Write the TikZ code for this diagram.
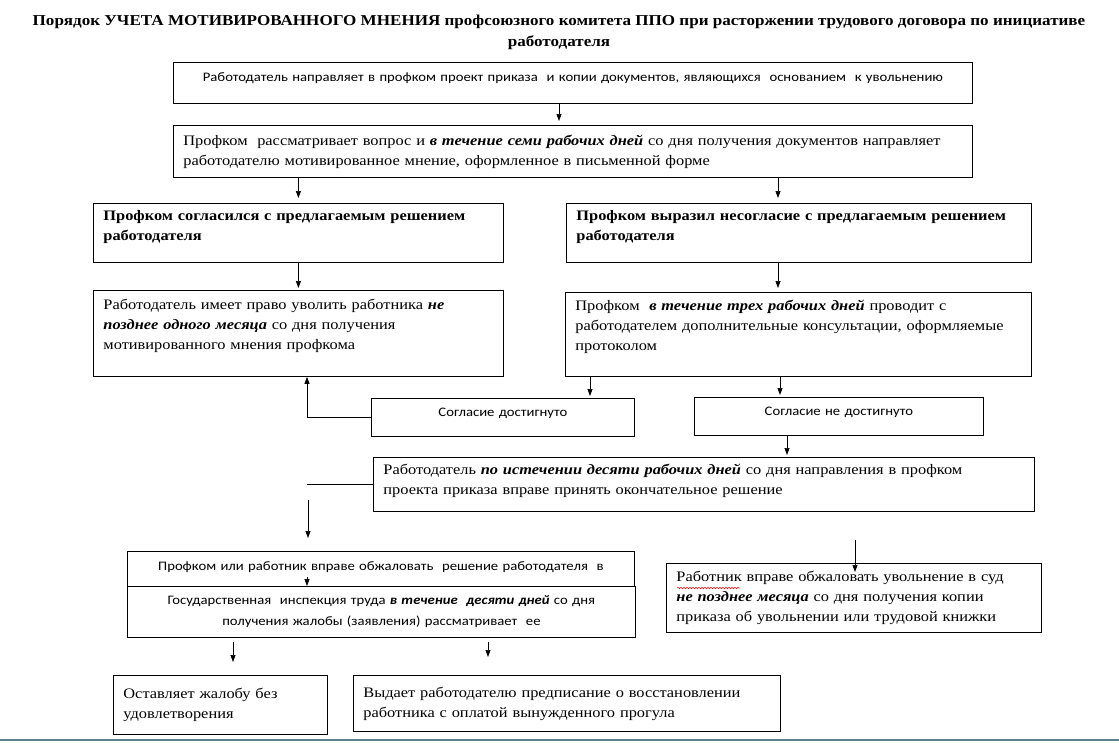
\documentclass[tikz,border=0pt]{standalone}
\usepackage{fontspec}
\setmainfont{Liberation Serif}[FakeStretch=1.13]
\newfontfamily\calib{Carlito}[FakeStretch=1.13]
\usetikzlibrary{arrows.meta,calc,decorations.pathmorphing}
\definecolor{rulecol}{RGB}{96,128,136}
\newcommand{\bi}[1]{\textbf{\textit{#1}}}
\newcommand{\liftpad}[1]{\par\vspace*{#1}}

\begin{document}
\begin{tikzpicture}[x=1pt, y=-1pt,
  box/.style={draw, line width=0.8pt, rectangle, anchor=north west, inner xsep=10pt, inner ysep=2pt,
    align=left, fill=white, font=\fontsize{14.5}{20}\selectfont},
  sbox/.style={box, align=center, font=\calib\fontsize{13}{21}\selectfont},
  lift/.style={execute at end node={\liftpad{#1}}},
  arr/.style={-{Triangle[length=7pt,width=5pt]}, line width=0.7pt}]
\useasboundingbox (0,0) rectangle (1119,742);

\node[font=\bfseries\fontsize{15.1}{21}\selectfont, align=center] (title) at (559,32)
  {Порядок УЧЕТА МОТИВИРОВАННОГО МНЕНИЯ профсоюзного комитета ППО при расторжении трудового договора по инициативе\\работодателя};

\node[sbox, text width=779pt, minimum height=41pt, lift=10pt] (b1) at (173,62)
  {Работодатель направляет в профком проект приказа\ \ и копии документов, являющихся\ \ основанием\ \ к увольнению};
\node[box, text width=779pt, minimum height=52pt] (b2) at (173,125)
  {Профком\ \ рассматривает вопрос и \bi{в течение семи рабочих дней} со дня получения документов направляет\\
   работодателю мотивированное мнение, оформленное в письменной форме};

\node[box, text width=390pt, minimum height=59pt, lift=11pt] (b3L) at (93,203)
  {\textbf{Профком согласился с предлагаемым решением}\\\textbf{работодателя}};
\node[box, text width=445pt, minimum height=59pt, lift=11pt] (b3R) at (566,203)
  {\textbf{Профком выразил несогласие с предлагаемым решением}\\\textbf{работодателя}};

\node[box, text width=390pt, minimum height=86pt, lift=15pt] (b4L) at (93,290)
  {Работодатель имеет право уволить работника \bi{не}\\\bi{позднее одного месяца} со дня получения\\мотивированного мнения профкома};
\node[box, text width=446pt, minimum height=84pt, lift=15pt] (b4R) at (565,292)
  {Профком\ \ \bi{в течение трех рабочих дней} проводит с\\работодателем дополнительные консультации, оформляемые\\протоколом};

\node[sbox, text width=243pt, minimum height=38pt, lift=8pt] (Sogl) at (371,398) {Согласие достигнуто};
\node[sbox, text width=269pt, minimum height=38pt, lift=8pt] (NeSogl) at (694,397) {Согласие не достигнуто};

\node[box, text width=641pt, minimum height=54pt, lift=7pt] (b5) at (373,457)
  {Работодатель \bi{по истечении десяти рабочих дней} со дня направления в профком\\проекта приказа вправе принять окончательное решение};

\node[sbox, text width=487pt, minimum height=45pt, lift=13pt] (b6a) at (127,551)
  {Профком или работник вправе обжаловать\ \ решение работодателя\ \ в};
\node[sbox, text width=488pt, minimum height=51pt] (b6b) at (127,586)
  {Государственная\ \ инспекция труда \bi{в течение\ \ десяти дней} со дня\\получения жалобы (заявления) рассматривает\ \ ее};

\node[box, text width=355pt, minimum height=69pt] (b8) at (666,563)
  {Работник вправе обжаловать увольнение в суд\\\bi{не позднее месяца} со дня получения копии\\приказа об увольнении или трудовой книжки};
\draw[red, line width=0.5pt, decorate, decoration={snake, amplitude=0.7pt, segment length=3pt}] (677,588) -- (740,588);

\node[box, text width=194pt, minimum height=59pt] (b7L) at (113,675)
  {Оставляет жалобу без\\удовлетворения};
\node[box, text width=407pt, minimum height=56pt] (b7R) at (353,675)
  {Выдает работодателю предписание о восстановлении\\работника с оплатой вынужденного прогула};

% connectors
\coordinate (xT) at (559,0);
\coordinate (xR) at (778,0);
\coordinate (xS) at (590,0);
\coordinate (xN) at (780,0);
\coordinate (xU) at (307,0);
\coordinate (xD) at (787,0);
\coordinate (xL1) at (233,0);
\coordinate (xL2) at (488,0);
\coordinate (tick) at (307,577);
\coordinate (dropA) at (308,500);
\coordinate (dropB) at (855,540);

\draw[arr, shorten >=4pt] (b1.south -| xT) -- (b2.north -| xT);
\draw[arr, shorten >=5pt] (b2.south -| b3L.north) -- (b3L.north);
\draw[arr, shorten >=5pt] (b2.south -| xR) -- (b3R.north -| xR);
\draw[arr, shorten >=2pt] (b3L.south) -- (b4L.north);
\draw[arr, shorten >=4pt] (b3R.south -| xR) -- (b4R.north -| xR);
\draw[arr, shorten >=2pt] (b4R.south -| xS) -- (Sogl.north -| xS);
\draw[arr, shorten >=2pt] (b4R.south -| xN) -- (NeSogl.north -| xN);
\draw[arr] (Sogl.west) -| (b4L.south -| xU);
\draw[arr, shorten >=2pt] (NeSogl.south -| xD) -- (b5.north -| xD);
\draw[line width=0.7pt] (b5.west) -- (b5.west -| xU);
\draw[arr, shorten >=13pt] (dropA) -- (b6a.north -| dropA);
\draw[arr] (tick) -- (b6b.north -| tick);
\draw[arr, shorten <=4pt, shorten >=13pt] (b6b.south -| xL1) -- (b7L.north -| xL1);
\draw[arr, shorten <=4pt, shorten >=18pt] (b6b.south -| xL2) -- (b7R.north -| xL2);
\draw[arr] (dropB) -- ($(b8.north -| dropB)+(0,9)$);

\draw[rulecol, line width=2pt] (0,740) -- (1119,740);
\end{tikzpicture}
\end{document}
